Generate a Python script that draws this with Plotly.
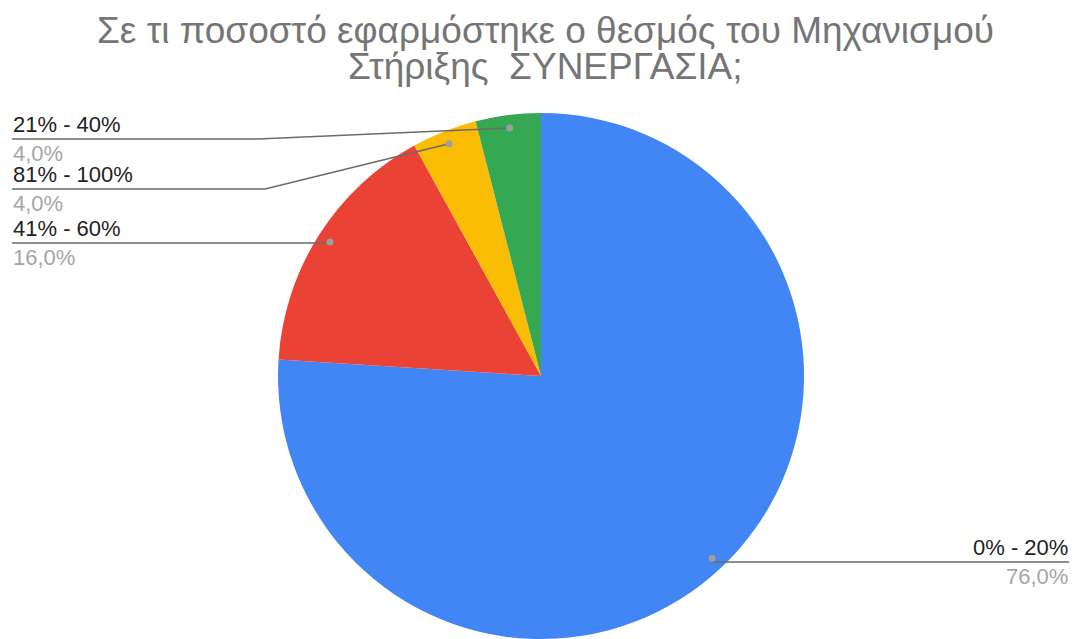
import math
import plotly.graph_objects as go

W, H = 1074, 639

# Survey answers and their shares (%)
categories = ["0% - 20%", "41% - 60%", "81% - 100%", "21% - 40%"]
shares = [76.0, 16.0, 4.0, 4.0]
colors = ["#4285f4", "#ea4335", "#fbbc04", "#34a853"]
title_lines = ["Σε τι ποσοστό εφαρμόστηκε ο θεσμός του Μηχανισμού",
               "Στήριξης  ΣΥΝΕΡΓΑΣΙΑ;"]

# Pie placement in paper fractions
dom_x = [0.2580, 0.7495]
dom_y = [0.0, 0.8232]

fig = go.Figure(go.Pie(
    labels=categories,
    values=shares,
    sort=False,
    direction="clockwise",
    rotation=0,
    marker=dict(colors=colors, line=dict(width=0)),
    textinfo="none",
    hoverinfo="label+percent",
    domain=dict(x=dom_x, y=dom_y),
    showlegend=False,
))

# Pie geometry in pixels (top-left origin)
cx = (dom_x[0] + dom_x[1]) / 2 * W
cy = H - (dom_y[0] + dom_y[1]) / 2 * H
R = min((dom_x[1] - dom_x[0]) * W, (dom_y[1] - dom_y[0]) * H) / 2


def px(x):
    return x / W


def py(y):
    return 1 - y / H


def anchor_point(idx):
    """Point inside slice idx at its mid angle, near the rim."""
    total = sum(shares)
    start = sum(shares[:idx]) / total * 360
    mid = math.radians(start + shares[idx] / total * 360 / 2)
    r = 0.95 * R
    return cx + r * math.sin(mid), cy - r * math.cos(mid)


# Leader-line layout: (slice index, elbow x, line y, line end x, side)
leaders = [
    (3, 258, 139, 12, "left"),
    (2, 265, 189, 12, "left"),
    (1, None, 243, 12, "left"),
    (0, None, 562, 1069, "right"),
]

label_font = "Liberation Sans, Arial, sans-serif"
shapes = []
annotations = []
line_col = "#6b6b6b"
for idx, elbow_x, ly, end_x, side in leaders:
    ax, ay = anchor_point(idx)
    if elbow_x is not None:
        shapes.append(dict(type="line", xref="paper", yref="paper",
                           x0=px(ax), y0=py(ay), x1=px(elbow_x), y1=py(ly),
                           line=dict(color=line_col, width=1.5)))
        shapes.append(dict(type="line", xref="paper", yref="paper",
                           x0=px(elbow_x), y0=py(ly), x1=px(end_x), y1=py(ly),
                           line=dict(color=line_col, width=1.5)))
    else:
        shapes.append(dict(type="line", xref="paper", yref="paper",
                           x0=px(ax), y0=py(ly), x1=px(end_x), y1=py(ly),
                           line=dict(color=line_col, width=1.5)))
    shapes.append(dict(type="circle", xref="paper", yref="paper",
                       x0=px(ax - 3.5), x1=px(ax + 3.5),
                       y0=py(ay + 3.5), y1=py(ay - 3.5),
                       fillcolor="#9e9e9e", line=dict(width=0)))
    xanchor = "left" if side == "left" else "right"
    pct = f"{shares[idx]:.1f}".replace(".", ",")
    annotations.append(dict(x=px(end_x), y=py(ly - 1), xref="paper", yref="paper",
                            text=categories[idx], showarrow=False,
                            xanchor=xanchor, yanchor="bottom", borderpad=0,
                            font=dict(family=label_font, size=22, color="#222222")))
    annotations.append(dict(x=px(end_x), y=py(ly + 1), xref="paper", yref="paper",
                            text=pct + "%", showarrow=False,
                            xanchor=xanchor, yanchor="top", borderpad=0,
                            font=dict(family=label_font, size=22, color="#a6a6a6")))

# Chart title, two centred lines set with tight spacing
for line, yc in zip(title_lines, [30, 67]):
    annotations.append(dict(x=px(545), y=py(yc), xref="paper", yref="paper",
                            text=line, showarrow=False,
                            xanchor="center", yanchor="middle", borderpad=0,
                            font=dict(family="Liberation Sans, Arial, sans-serif",
                                      size=37, color="#757575")))

fig.update_layout(
    width=W, height=H,
    margin=dict(l=0, r=0, t=0, b=0),
    paper_bgcolor="white",
    plot_bgcolor="white",
    shapes=shapes,
    annotations=annotations,
)

fig.write_html("out.html")
